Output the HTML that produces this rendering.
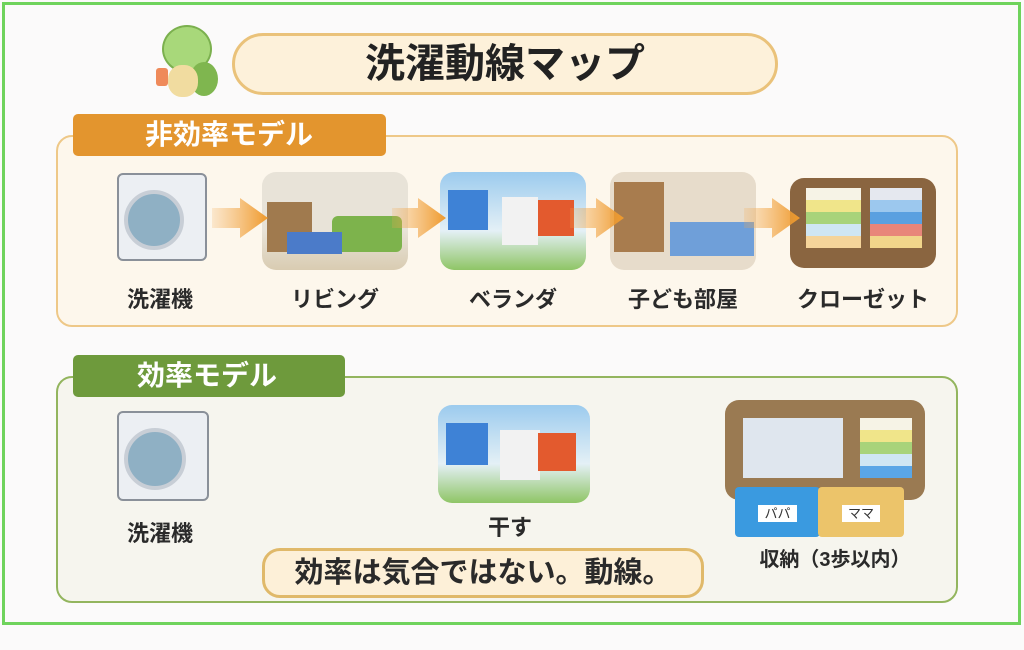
<!DOCTYPE html>
<html><head><meta charset="utf-8"><style>
*{margin:0;padding:0;box-sizing:border-box}
body{width:1024px;height:650px;background:#fbfafa;position:relative;overflow:hidden;font-family:"Liberation Sans","Noto Sans CJK JP",sans-serif}
.a{position:absolute}
.lbl{position:absolute;font-weight:bold;font-size:22px;color:#2a2a2a;text-align:center;white-space:nowrap}
.img{position:absolute;border-radius:14px;overflow:hidden}
</style></head><body>
<div class="a" style="left:2px;top:2px;width:1019px;height:623px;border:3px solid #6fd35c"></div>
<!-- turtle -->
<div class="a" style="left:162px;top:25px;width:50px;height:48px;border-radius:50%;background:#a8d87a;border:2px solid #7bb04e"></div>
<div class="a" style="left:190px;top:62px;width:28px;height:34px;border-radius:50%;background:#7fb64f"></div>
<div class="a" style="left:168px;top:65px;width:30px;height:32px;border-radius:45%;background:#f1dca0"></div>
<div class="a" style="left:156px;top:68px;width:12px;height:18px;background:#ef8a5a;border-radius:3px"></div>
<!-- title -->
<div class="a" style="left:232px;top:33px;width:546px;height:62px;border-radius:31px;background:#fdf1da;border:3px solid #eac27a"></div>
<div class="a" style="left:232px;top:33px;width:546px;height:62px;line-height:62px;text-align:center;font-size:40px;font-weight:bold;color:#222">洗濯動線マップ</div>
<!-- panel 1 -->
<div class="a" style="left:56px;top:135px;width:902px;height:192px;border-radius:16px;background:#fdf7ec;border:2px solid #eec888"></div>
<div class="a" style="left:73px;top:114px;width:313px;height:42px;border-radius:5px;background:#e3952e;color:#fff;font-size:28px;font-weight:bold;line-height:42px;padding-left:72px">非効率モデル</div>
<!-- washer -->
<div class="a" style="left:117px;top:173px;width:90px;height:88px;border-radius:6px;background:#eceff3;border:2px solid #8a9099"></div>
<div class="a" style="left:124px;top:190px;width:60px;height:60px;border-radius:50%;background:#8fb0c4;border:4px solid #c8ced6"></div>
<div class="img" style="left:262px;top:172px;width:146px;height:98px;background:linear-gradient(#e8e3d8 60%,#d9ccb2)"><div class="a" style="left:5px;top:30px;width:45px;height:50px;background:#a07a4e"></div><div class="a" style="left:70px;top:44px;width:70px;height:36px;background:#7db34c;border-radius:6px"></div><div class="a" style="left:25px;top:60px;width:55px;height:22px;background:#4b7bc9"></div></div>
<div class="img" style="left:440px;top:172px;width:146px;height:98px;background:linear-gradient(#9ccbee,#e4f0f6 60%,#8fc566)"><div class="a" style="left:8px;top:18px;width:40px;height:40px;background:#3e82d6"></div><div class="a" style="left:62px;top:25px;width:36px;height:48px;background:#f2f2f2"></div><div class="a" style="left:98px;top:28px;width:36px;height:36px;background:#e35a2e"></div></div>
<div class="img" style="left:610px;top:172px;width:146px;height:98px;background:#e7dccb"><div class="a" style="left:4px;top:10px;width:50px;height:70px;background:#a87c4e"></div><div class="a" style="left:60px;top:50px;width:84px;height:34px;background:#6f9fd9"></div></div>
<div class="img" style="left:790px;top:178px;width:146px;height:90px;background:#8a6540"><div class="a" style="left:16px;top:10px;width:55px;height:60px;background:linear-gradient(#f6f3e6 20%,#f0e58a 20% 40%,#a8d37a 40% 60%,#cfe6f3 60% 80%,#f5d49a 80%)"></div><div class="a" style="left:80px;top:10px;width:52px;height:60px;background:linear-gradient(#e5e8ef 20%,#9cc8ee 20% 40%,#5aa0e0 40% 60%,#e8857a 60% 80%,#f1d58a 80%)"></div></div>
<!-- arrows -->
<svg class="a" style="left:0;top:0" width="1024" height="650">
<defs><linearGradient id="o" x1="0" x2="1"><stop offset="0" stop-color="#f3a94f" stop-opacity=".2"/><stop offset="1" stop-color="#ef9a2c"/></linearGradient>
<linearGradient id="g" x1="0" x2="1"><stop offset="0" stop-color="#8db95a" stop-opacity=".2"/><stop offset="1" stop-color="#6ea33a"/></linearGradient></defs>
<polygon points="212,208 240,208 240,198 268,218 240,238 240,228 212,228" fill="url(#o)"/>
<polygon points="392,208 418,208 418,198 446,218 418,238 418,228 392,228" fill="url(#o)"/>
<polygon points="570,208 596,208 596,198 624,218 596,238 596,228 570,228" fill="url(#o)"/>
<polygon points="744,208 772,208 772,198 800,218 772,238 772,228 744,228" fill="url(#o)"/>
<polygon points="220,450 400,450 400,438 432,460 400,482 400,470 220,470" fill="url(#g)"/>
<polygon points="598,450 690,450 690,438 724,460 690,482 690,470 598,470" fill="url(#g)"/>
</svg>
<div class="lbl" style="left:100px;top:282px;width:120px">洗濯機</div>
<div class="lbl" style="left:270px;top:282px;width:130px">リビング</div>
<div class="lbl" style="left:448px;top:282px;width:130px">ベランダ</div>
<div class="lbl" style="left:608px;top:282px;width:150px">子ども部屋</div>
<div class="lbl" style="left:780px;top:282px;width:166px">クローゼット</div>
<!-- panel 2 -->
<div class="a" style="left:56px;top:376px;width:902px;height:227px;border-radius:16px;background:#f6f5ee;border:2px solid #93b55e"></div>
<div class="a" style="left:73px;top:355px;width:272px;height:42px;border-radius:5px;background:#6e9a3c;color:#fff;font-size:28px;font-weight:bold;line-height:42px;padding-left:64px">効率モデル</div>
<div class="a" style="left:117px;top:411px;width:92px;height:90px;border-radius:6px;background:#eceff3;border:2px solid #8a9099"></div>
<div class="a" style="left:124px;top:428px;width:62px;height:62px;border-radius:50%;background:#8fb0c4;border:4px solid #c8ced6"></div>
<div class="img" style="left:438px;top:405px;width:152px;height:98px;background:linear-gradient(#9ccbee,#e4f0f6 60%,#8fc566)"><div class="a" style="left:8px;top:18px;width:42px;height:42px;background:#3e82d6"></div><div class="a" style="left:62px;top:25px;width:40px;height:50px;background:#f2f2f2"></div><div class="a" style="left:100px;top:28px;width:38px;height:38px;background:#e35a2e"></div></div>
<div class="img" style="left:725px;top:400px;width:200px;height:100px;background:#9a7a52"><div class="a" style="left:18px;top:18px;width:100px;height:60px;background:#dfe6ee"></div><div class="a" style="left:135px;top:18px;width:52px;height:60px;background:linear-gradient(#f6f3e6 20%,#f0e58a 20% 40%,#a8d37a 40% 60%,#cfe6f3 60% 80%,#5aa6e6 80%)"></div></div>
<div class="a" style="left:735px;top:487px;width:85px;height:50px;background:#3a9ae0;border-radius:4px;color:#333;font-size:13px;text-align:center;padding-top:16px"><span style="background:#fff;padding:1px 6px">パパ</span></div>
<div class="a" style="left:818px;top:487px;width:86px;height:50px;background:#ecc46a;border-radius:4px;color:#333;font-size:13px;text-align:center;padding-top:16px"><span style="background:#fff;padding:1px 6px">ママ</span></div>
<div class="lbl" style="left:100px;top:516px;width:120px">洗濯機</div>
<div class="lbl" style="left:470px;top:510px;width:80px">干す</div>
<div class="lbl" style="left:740px;top:543px;width:190px;font-size:20px">収納（3歩以内）</div>
<div class="a" style="left:262px;top:548px;width:442px;height:50px;border-radius:18px;background:#fdf0d8;border:3px solid #e0b96a;text-align:center;line-height:44px;font-size:29px;font-weight:bold;color:#2a2a2a">効率は気合ではない。動線。</div>
</body></html>
